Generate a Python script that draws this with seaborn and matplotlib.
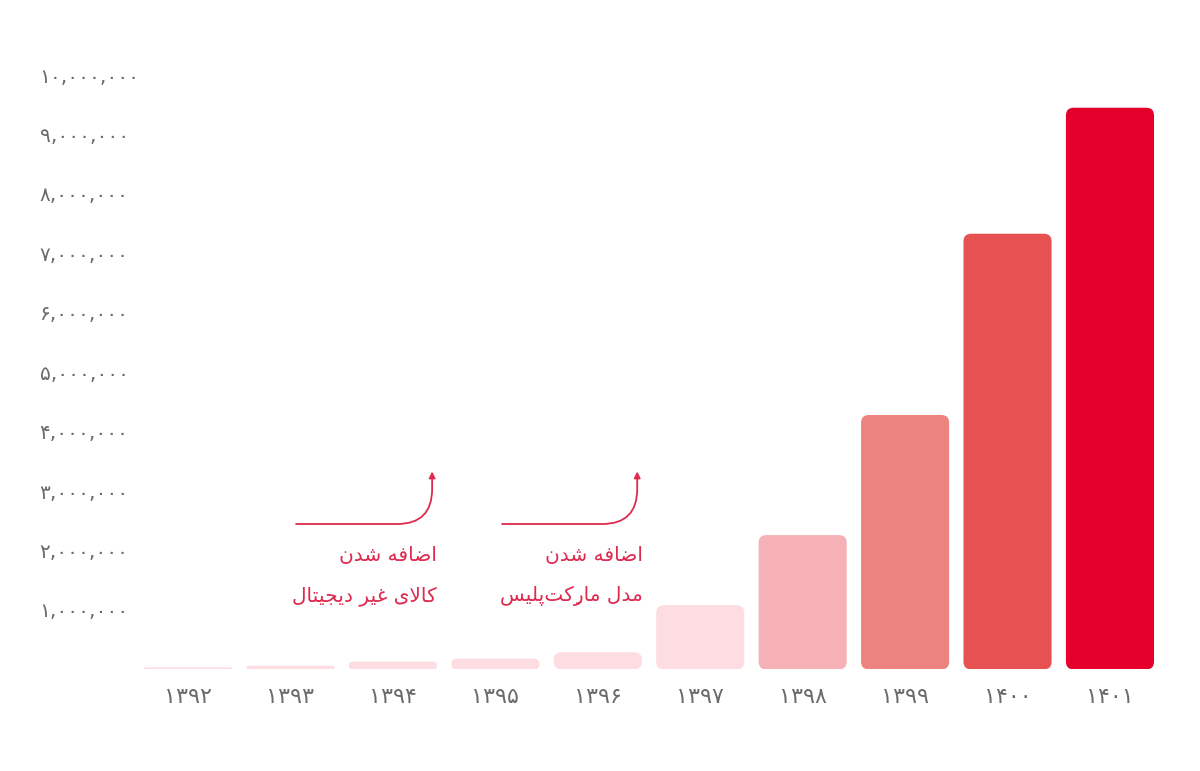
import matplotlib
matplotlib.use("Agg")
import matplotlib.pyplot as plt
import pandas as pd
import seaborn as sns
from matplotlib.patches import FancyBboxPatch

# data
years = ["1392", "1393", "1394", "1395", "1396", "1397", "1398", "1399", "1400", "1401"]
values = [35000, 60000, 130000, 180000, 290000, 1080000, 2260000, 4280000, 7330000, 9450000]
bar_colors = ["#fddde2", "#fddde2", "#fddde2", "#fddde2", "#fddde2", "#fddde2",
              "#f5b1b6", "#ec837e", "#e75151", "#e4002b"]
y_ticks = [1000000, 2000000, 3000000, 4000000, 5000000, 6000000, 7000000, 8000000, 9000000, 10000000]

note1 = ["اضافه شدن", "کالای غیر دیجیتال"]
note2 = ["اضافه شدن", "مدل مارکِت‌پلیس"]

FA_DIGITS = str.maketrans("0123456789", "۰۱۲۳۴۵۶۷۸۹")

# isolated, final, initial, medial presentation forms
FORMS = {
    "ا": ("\uFE8D", "\uFE8E", None, None),
    "د": ("\uFEA9", "\uFEAA", None, None),
    "ر": ("\uFEAD", "\uFEAE", None, None),
    "ض": ("\uFEBD", "\uFEBE", "\uFEBF", "\uFEC0"),
    "ف": ("\uFED1", "\uFED2", "\uFED3", "\uFED4"),
    "ه": ("\uFEE9", "\uFEEA", "\uFEEB", "\uFEEC"),
    "ش": ("\uFEB5", "\uFEB6", "\uFEB7", "\uFEB8"),
    "ن": ("\uFEE5", "\uFEE6", "\uFEE7", "\uFEE8"),
    "ک": ("\uFB8E", "\uFB8F", "\uFB90", "\uFB91"),
    "ل": ("\uFEDD", "\uFEDE", "\uFEDF", "\uFEE0"),
    "ی": ("\uFBFC", "\uFBFD", "\uFBFE", "\uFBFF"),
    "غ": ("\uFECD", "\uFECE", "\uFECF", "\uFED0"),
    "ج": ("\uFE9D", "\uFE9E", "\uFE9F", "\uFEA0"),
    "ت": ("\uFE95", "\uFE96", "\uFE97", "\uFE98"),
    "م": ("\uFEE1", "\uFEE2", "\uFEE3", "\uFEE4"),
    "پ": ("\uFB56", "\uFB57", "\uFB58", "\uFB59"),
    "س": ("\uFEB1", "\uFEB2", "\uFEB3", "\uFEB4"),
    "لا": ("\uFEFB", "\uFEFC", None, None),
}


def shape(text):
    # tiny Persian shaper: join letters, then lay them out right to left
    tokens = []
    for ch in text:
        if "\u064B" <= ch <= "\u0652" and tokens:
            tokens[-1][1] += ch
        elif ch == "ا" and tokens and tokens[-1][0] == "ل" and not tokens[-1][1]:
            tokens[-1][0] = "لا"
        else:
            tokens.append([ch, ""])
    out = []
    for i, (base, marks) in enumerate(tokens):
        if base not in FORMS:
            out.append("" if base == "\u200c" else base + marks)
            continue
        prev = tokens[i - 1][0] if i > 0 else None
        nxt = tokens[i + 1][0] if i + 1 < len(tokens) else None
        joins_prev = prev in FORMS and FORMS[prev][2] is not None
        joins_next = nxt in FORMS and FORMS[base][2] is not None
        iso, fin, ini, med = FORMS[base]
        if joins_prev and joins_next:
            g = med
        elif joins_prev:
            g = fin
        elif joins_next:
            g = ini
        else:
            g = iso
        out.append(g + marks)
    return "".join(reversed(out))


df = pd.DataFrame({"year": [y.translate(FA_DIGITS) for y in years], "value": values})

sns.set_style("white")
plt.rcParams["font.family"] = ["DejaVu Sans"]

fig = plt.figure(figsize=(12, 7.71), dpi=100)
ax = fig.add_axes([136.8 / 1200, 0.1318, 1024.4 / 1200, 0.8094])

sns.barplot(data=df, x="year", y="value", hue="year", palette=bar_colors,
            legend=False, width=0.86, saturation=1, ax=ax)

ax.set_xlim(-0.5, 9.5)
ax.set_ylim(0, 10.5e6)

# swap the plain bars for rounded ones
aspect = (10.5e6 / (0.8094 * 771)) / (10.0 / 1024.4)
radius = 0.075
for p in list(ax.patches):
    x, w, h = p.get_x(), p.get_width(), p.get_height()
    r = min(radius, h / aspect / 2)
    rb = FancyBboxPatch((x, 0), w, h, boxstyle=f"round,pad=0,rounding_size={r}",
                        mutation_aspect=aspect, facecolor=p.get_facecolor(),
                        edgecolor="none")
    p.remove()
    ax.add_patch(rb)

ax.set_yticks(y_ticks)
ax.set_yticklabels([f"{v:,}".translate(FA_DIGITS) for v in y_ticks])
for lab in ax.get_yticklabels():
    lab.set_horizontalalignment("left")
ax.tick_params(axis="y", length=0, pad=70, labelsize=14.5, labelcolor="#6b6b6b")
ax.tick_params(axis="x", length=0, pad=13, labelsize=16, labelcolor="#6b6b6b")
ax.set_xlabel("")
ax.set_ylabel("")
sns.despine(ax=ax, left=True, bottom=True)

red = "#de2a4f"
for x0, x1, tx, lines in [(1.055, 2.383, 2.43, note1), (3.066, 4.385, 4.44, note2)]:
    ax.annotate("", xy=(x1, 3.33e6), xytext=(x0, 2.446e6),
                arrowprops=dict(arrowstyle="-|>", color=red, lw=1.3,
                                mutation_scale=9, shrinkA=0, shrinkB=0,
                                connectionstyle="angle,angleA=0,angleB=90,rad=35"))
    ax.text(tx, 1.91e6, shape(lines[0]), ha="right", va="center",
            fontsize=14.5, color=red)
    ax.text(tx, 1.235e6, shape(lines[1]), ha="right", va="center",
            fontsize=14.5, color=red)

fig.savefig("out.png", dpi=100, facecolor="white")
